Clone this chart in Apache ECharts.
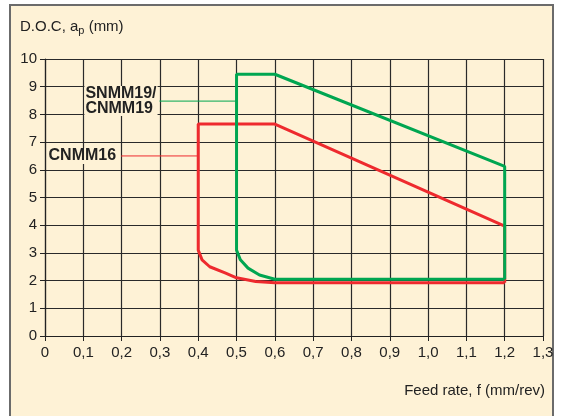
<!DOCTYPE html>
<html><head><meta charset="utf-8">
<script src="https://cdn.jsdelivr.net/npm/echarts@6/dist/echarts.min.js"></script>
<style>html,body{margin:0;padding:0;background:#fff}#c{width:566px;height:416px}</style>
</head><body><div id="c"></div>
<script>
var xTicks = [0,0.1,0.2,0.3,0.4,0.5,0.6,0.7,0.8,0.9,1.0,1.1,1.2,1.3];
var yTicks = [0,1,2,3,4,5,6,7,8,9,10];
var greenName = 'SNMM19/\nCNMM19';
var greenX = [1.2, 1.2, 0.6, 0.5, 0.5, 0.51, 0.53, 0.56, 0.6, 1.2];
var greenY = [2.05, 6.12, 9.45, 9.45, 3.1, 2.75, 2.45, 2.2, 2.05, 2.05];
var redName = 'CNMM16';
var redX = [1.2, 1.2, 0.6, 0.4, 0.4, 0.41, 0.43, 0.47, 0.5, 0.55, 0.6, 1.2];
var redY = [1.92, 3.97, 7.65, 7.65, 3.1, 2.75, 2.5, 2.28, 2.1, 1.97, 1.92, 1.92];
var greenLeaderX = [0.3, 0.5];
var greenLeaderY = [8.48, 8.48];
var redLeaderX = [0.2, 0.4];
var redLeaderY = [6.5, 6.5];

function pairs(xs, ys){ return xs.map(function(x,i){return [x, ys[i]];}); }
var bg = '#FEF2D6';
var font = '"Liberation Sans", Arial, sans-serif';
function leader(xs, ys, name, color, lab){
  var d = pairs(xs, ys);
  d[0] = {value:d[0], label:lab};
  return {type:'line', data:d, symbol:'circle', symbolSize:1, showSymbol:true,
    itemStyle:{color:color}, lineStyle:{color:color, width:1}, z:4, label:{show:false}};
}
var chart = echarts.init(document.getElementById('c'), null, {renderer:'canvas'});
chart.setOption({
  animation:false,
  backgroundColor:'#fff',
  graphic:[
    {type:'rect', z:-10, shape:{x:10,y:5,width:543,height:420}, style:{fill:bg, stroke:'#6b6b6b', lineWidth:2}},
    {type:'text', left:20, top:19, style:{
      text:'{a|D.O.C, a}{s|p}{a| (mm)}',
      rich:{a:{fontSize:15, fontFamily:font, fill:'#222'}, s:{fontSize:11, fontFamily:font, fill:'#222', padding:[8,0,0,0]}}
    }},
    {type:'text', right:21, top:383, style:{text:'Feed rate, f (mm/rev)', fontSize:15, fontFamily:font, fill:'#222'}}
  ],
  grid:{left:45, right:23, top:59, bottom:80},
  xAxis:{type:'value', min:0, max:1.3, interval:0.1,
    axisLine:{lineStyle:{color:'#222', width:1.2}},
    axisTick:{show:true, length:5, lineStyle:{color:'#222'}},
    axisLabel:{fontSize:15, fontFamily:font, color:'#222', margin:9,
      formatter:function(v){ var t = xTicks.reduce(function(a,b){return Math.abs(b-v)<Math.abs(a-v)?b:a;}); return (t===0?'0':t.toFixed(1)).replace('.',','); }},
    splitLine:{show:true, lineStyle:{color:'#2a2a2a', width:1.2}}
  },
  yAxis:{type:'value', min:0, max:10, interval:1,
    axisLine:{show:true, lineStyle:{color:'#222', width:1.2}},
    axisTick:{show:true, length:5, lineStyle:{color:'#222'}},
    axisLabel:{fontSize:15, fontFamily:font, color:'#222', margin:8},
    splitLine:{show:true, lineStyle:{color:'#2a2a2a', width:1.2}}
  },
  series:[
    {type:'line', data:pairs(redX, redY), symbol:'none', smooth:false, lineStyle:{color:'#EE2A2E', width:3}, z:5},
    {type:'line', data:pairs(greenX, greenY), symbol:'none', smooth:false, lineStyle:{color:'#00A651', width:3}, z:6},
    leader(greenLeaderX, greenLeaderY, greenName, '#00A651',
      {show:true, formatter:greenName, position:'left', distance:2, align:'left', offset:[-73,0], fontSize:16, fontWeight:'bold', fontFamily:font, color:'#222', lineHeight:15, backgroundColor:bg, padding:[0,1]}),
    leader(redLeaderX, redLeaderY, redName, '#EE2A2E',
      {show:true, formatter:redName, position:'left', distance:4, fontSize:16, fontWeight:'bold', fontFamily:font, color:'#222', backgroundColor:bg, padding:[0,1]})
  ]
});
</script></body></html>
